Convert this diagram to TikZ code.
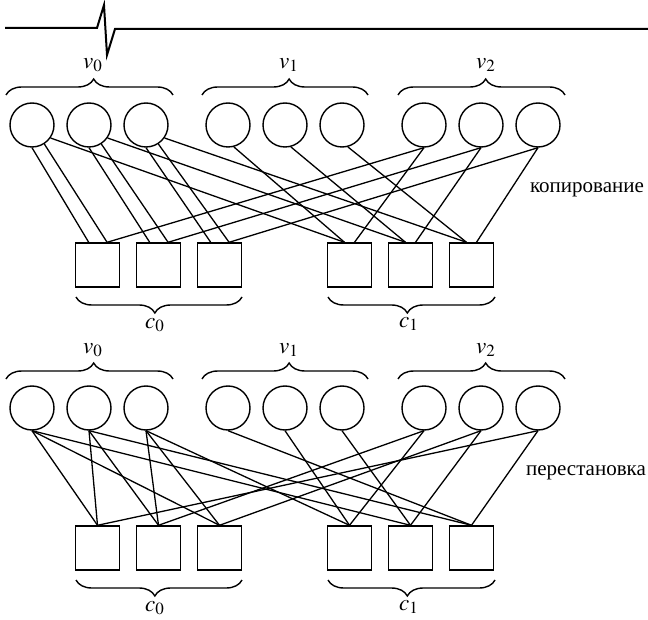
\documentclass[tikz,border=0pt]{standalone}
\usepackage{mathptmx}
\usepackage{fontspec}
\setmainfont{Liberation Serif}
\usepackage{tikz}
\usetikzlibrary{decorations.pathreplacing}
\tikzstyle{varnode} = [circle, minimum size=22pt, inner sep=0pt, draw=black, line width=0.7pt]
\tikzstyle{checknode} = [rectangle, minimum size=22pt, inner sep=0pt, draw=black, line width=0.7pt]
\tikzstyle{link} = [line width=0.65pt]
\tikzstyle{grpbrace} = [decorate, decoration={brace, amplitude=8pt, aspect=0.525}, line width=0.7pt]
\tikzstyle{grplabel} = [font=\fontsize{11.5}{13}\selectfont]
\tikzstyle{capt} = [font=\fontsize{10.5}{12}\selectfont]

\begin{document}
\begin{tikzpicture}[x=0.5pt, y=-0.5pt, node distance=28.5pt]
\useasboundingbox (0,0) rectangle (648,620);
%линия разрыва
\draw [line width=1pt] (5,28) -- (97,28) -- (104,5) -- (107,55) -- (115,29) -- (648,29);

%копирование: узлы
\node (kv01) [varnode] at (32,125) {};
\node (kv02) [varnode, right of=kv01] {};
\node (kv03) [varnode, right of=kv02] {};
\node (kv11) [varnode, right of=kv03, xshift=12.5pt] {};
\node (kv12) [varnode, right of=kv11] {};
\node (kv13) [varnode, right of=kv12] {};
\node (kv21) [varnode, right of=kv13, xshift=12.5pt] {};
\node (kv22) [varnode, right of=kv21] {};
\node (kv23) [varnode, right of=kv22] {};
\node (kc01) [checknode] at (97.5,265) {};
\node (kc02) [checknode, right of=kc01, node distance=30.5pt] {};
\node (kc03) [checknode, right of=kc02, node distance=30.5pt] {};
\node (kc11) [checknode, right of=kc03, node distance=65pt] {};
\node (kc12) [checknode, right of=kc11, node distance=30.5pt] {};
\node (kc13) [checknode, right of=kc12, node distance=30.5pt] {};

\draw [grpbrace] (6,95) -- (173,95);
\draw [grpbrace] (202,95) -- (368,95);
\draw [grpbrace] (398,95) -- (565,95);
\draw [grpbrace] (242,297) -- (76,297);
\draw [grpbrace] (495,297) -- (328,297);
\node (kl0) [grplabel] at (93,65) {$v_0$};
\node (kl1) [grplabel] at (289,65) {$v_1$};
\node (kl2) [grplabel] at (486,65) {$v_2$};
\node (kl3) [grplabel] at (155,325) {$c_0$};
\node (kl4) [grplabel] at (409,324) {$c_1$};
\node (kcap) [capt] at (587,190) {копирование};

%копирование: рёбра
\draw [link] (kv01.-90) -- ([xshift=-4.4pt]kc01.north);
\draw [link] (kv01.-57) -- ([xshift=4.8pt]kc01.north);
\draw [link] (kv01.-35) -- ([xshift=-2.5pt]kc11.north);
\draw [link] (kv02.-90) -- ([xshift=-4.4pt]kc02.north);
\draw [link] (kv02.-57) -- ([xshift=4.8pt]kc02.north);
\draw [link] (kv02.-35) -- ([xshift=-2.5pt]kc12.north);
\draw [link] (kv03.-90) -- ([xshift=-4.4pt]kc03.north);
\draw [link] (kv03.-57) -- ([xshift=4.8pt]kc03.north);
\draw [link] (kv03.-35) -- ([xshift=-2.5pt]kc13.north);
\draw [link] (kv11.-75) -- ([xshift=-2.5pt]kc11.north);
\draw [link] (kv12.-75) -- ([xshift=-2.5pt]kc12.north);
\draw [link] (kv13.-75) -- ([xshift=-2.5pt]kc13.north);
\draw [link] (kv21.-90) -- ([xshift=4.8pt]kc01.north);
\draw [link] (kv21.-90) -- ([xshift=2.5pt]kc11.north);
\draw [link] (kv22.-90) -- ([xshift=4.8pt]kc02.north);
\draw [link] (kv22.-90) -- ([xshift=2.5pt]kc12.north);
\draw [link] (kv23.-90) -- ([xshift=4.8pt]kc03.north);
\draw [link] (kv23.-90) -- ([xshift=2.5pt]kc13.north);

%перестановка: узлы
\node (pv01) [varnode] at (32,408) {};
\node (pv02) [varnode, right of=pv01] {};
\node (pv03) [varnode, right of=pv02] {};
\node (pv11) [varnode, right of=pv03, xshift=12.5pt] {};
\node (pv12) [varnode, right of=pv11] {};
\node (pv13) [varnode, right of=pv12] {};
\node (pv21) [varnode, right of=pv13, xshift=12.5pt] {};
\node (pv22) [varnode, right of=pv21] {};
\node (pv23) [varnode, right of=pv22] {};
\node (pc01) [checknode] at (97.5,548) {};
\node (pc02) [checknode, right of=pc01, node distance=30.5pt] {};
\node (pc03) [checknode, right of=pc02, node distance=30.5pt] {};
\node (pc11) [checknode, right of=pc03, node distance=65pt] {};
\node (pc12) [checknode, right of=pc11, node distance=30.5pt] {};
\node (pc13) [checknode, right of=pc12, node distance=30.5pt] {};

\draw [grpbrace] (6,379) -- (173,379);
\draw [grpbrace] (202,379) -- (368,379);
\draw [grpbrace] (398,379) -- (565,379);
\draw [grpbrace] (242,580) -- (76,580);
\draw [grpbrace] (495,580) -- (328,580);
\node (pl0) [grplabel] at (93,350) {$v_0$};
\node (pl1) [grplabel] at (289,350) {$v_1$};
\node (pl2) [grplabel] at (486,350) {$v_2$};
\node (pl3) [grplabel] at (155,608) {$c_0$};
\node (pl4) [grplabel] at (409,607) {$c_1$};
\node (pcap) [capt] at (586,473) {перестановка};

%перестановка: рёбра
\draw [link] (pv01.south) -- (pc01.north);
\draw [link] (pv02.south) -- (pc02.north);
\draw [link] (pv03.south) -- (pc03.north);
\draw [link] (pv01.south) -- (pc03.north);
\draw [link] (pv02.south) -- (pc01.north);
\draw [link] (pv03.south) -- (pc02.north);
\draw [link] (pv01.south) -- (pc12.north);
\draw [link] (pv02.south) -- (pc13.north);
\draw [link] (pv03.south) -- (pc11.north);
\draw [link] (pv11.south) -- (pc13.north);
\draw [link] (pv12.south) -- (pc11.north);
\draw [link] (pv13.south) -- (pc12.north);
\draw [link] (pv21.south) -- (pc02.north);
\draw [link] (pv22.south) -- (pc03.north);
\draw [link] (pv23.south) -- (pc01.north);
\draw [link] (pv21.south) -- (pc11.north);
\draw [link] (pv22.south) -- (pc12.north);
\draw [link] (pv23.south) -- (pc13.north);
\end{tikzpicture}
\end{document}
